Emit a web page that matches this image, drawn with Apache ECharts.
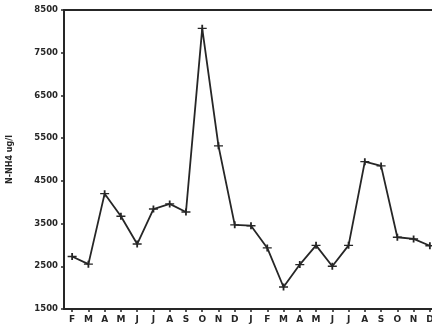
<!DOCTYPE html>
<html>
<head>
<meta charset="utf-8">
<script src="https://cdn.jsdelivr.net/npm/echarts@6/dist/echarts.min.js"></script>
<style>
  html, body { margin: 0; padding: 0; background: #fff; }
  #chart { width: 432px; height: 329px; }
</style>
</head>
<body>
<div id="chart"></div>
<script>
// Monthly ammonium nitrogen, two consecutive seasons (Feb .. Dec, Jan .. Dec)
const months = ['F','M','A','M','J','J','A','S','O','N','D','J','F','M','A','M','J','J','A','S','O','N','D'];
const nh4 = [2730, 2550, 4200, 3670, 3020, 3840, 3960, 3770, 8070, 5320, 3470, 3450, 2930,
             2015, 2540, 2990, 2500, 2990, 4950, 4850, 3180, 3140, 2980];
const yTicks = [1500, 2500, 3500, 4500, 5500, 6500, 7500, 8500];
const yTitle = 'N-NH4 ug/l';

const ink = '#262626';
const font = { fontFamily: 'DejaVu Sans', fontWeight: 'bold', color: ink };

const chart = echarts.init(document.getElementById('chart'), null, { renderer: 'canvas' });
chart.setOption({
  animation: false,
  backgroundColor: '#fff',
  grid: { left: 64, right: -6, top: 10, bottom: 20, containLabel: false, outerBoundsMode: 'none' },
  xAxis: [{
    type: 'category',
    data: months,
    boundaryGap: true,
    axisLine: { lineStyle: { color: ink, width: 2 } },
    axisTick: { show: true, alignWithLabel: true, length: 3, lineStyle: { color: ink, width: 1.5 } },
    axisLabel: Object.assign({ fontSize: 9, margin: 6, interval: 0 }, font),
    splitLine: { show: false }
  }, {
    type: 'category',
    position: 'top',
    data: months,
    axisLine: { lineStyle: { color: ink, width: 2 } },
    axisTick: { show: false },
    axisLabel: { show: false }
  }],
  yAxis: {
    type: 'value',
    min: yTicks[0],
    max: yTicks[yTicks.length - 1],
    interval: 1000,
    name: yTitle,
    nameLocation: 'middle',
    nameGap: 50,
    nameRotate: 90,
    nameTextStyle: Object.assign({ fontSize: 8 }, font),
    axisLine: { show: true, lineStyle: { color: ink, width: 2 } },
    axisTick: { show: true, length: 3, lineStyle: { color: ink, width: 1.5 } },
    axisLabel: Object.assign({ fontSize: 8.5, margin: 6, formatter: v => String(v) }, font),
    splitLine: { show: false }
  },
  series: [{
    type: 'line',
    data: nh4,
    xAxisIndex: 0,
    symbol: 'path://M0,4h10v2h-10z M4,0h2v10h-2z',
    symbolSize: [9, 7],
    showAllSymbol: true,
    lineStyle: { color: ink, width: 1.8 },
    itemStyle: { color: ink, borderWidth: 0 }
  }]
});
</script>
</body>
</html>
